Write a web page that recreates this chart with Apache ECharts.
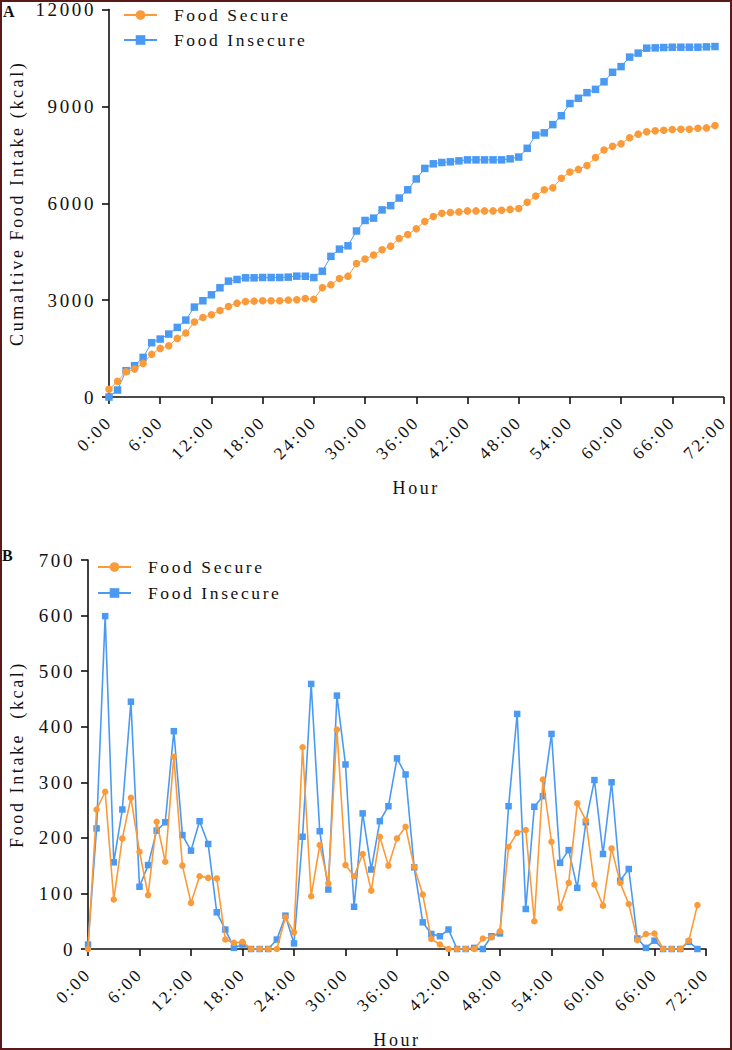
<!DOCTYPE html>
<html>
<head>
<meta charset="utf-8">
<script src="https://cdn.jsdelivr.net/npm/echarts@6/dist/echarts.min.js"></script>
<style>
  html, body { margin: 0; padding: 0; background: #fff; }
  #chart { width: 732px; height: 1050px; }
  #chart text { letter-spacing: 2.6px; white-space: pre; }
</style>
</head>
<body>
<div id="chart"></div>
<script>
// ---- data ----
const xTickHours = [0, 6, 12, 18, 24, 30, 36, 42, 48, 54, 60, 66, 72];
const seriesNames = ['Food Secure', 'Food Insecure'];

// Panel A: cumulative food intake (kcal), hourly, hours 0..71
const secureCum = [237,485,784,866,1041,1320,1505,1588,1815,1980,
  2320,2464,2547,2681,2804,2907,2959,2969,2980,2980,
  2980,3000,3010,3050,3025,3386,3478,3672,3743,4131,
  4274,4396,4559,4672,4906,5029,5212,5437,5590,5692,
  5712,5732,5763,5763,5763,5763,5783,5810,5840,6028,
  6222,6416,6477,6773,6967,7048,7171,7415,7650,7762,
  7844,8027,8140,8211,8242,8262,8282,8293,8293,8323,
  8333,8405];
const insecureCum = [0,216,815,969,1227,1681,1794,1949,2155,2382,
  2784,2980,3165,3382,3588,3639,3691,3691,3701,3701,
  3701,3712,3742,3740,3700,3896,4355,4580,4682,5141,
  5467,5539,5794,5926,6161,6416,6752,7079,7222,7262,
  7283,7313,7344,7344,7344,7344,7344,7375,7430,7701,
  8109,8180,8435,8711,9088,9251,9425,9527,9761,10057,
  10231,10526,10649,10802,10812,10822,10832,10832,10832,10832,
  10843,10853];

// Panel B: hourly food intake (kcal), hours 0..71
const secureHourly = [0,251,283,89,199,272,175,97,229,157,
  346,150,83,131,128,127,17,11,13,0,
  0,0,0,57,30,363,95,187,118,395,
  151,131,171,105,202,150,199,220,148,98,
  18,8,0,0,0,0,19,21,32,184,
  209,214,50,305,193,74,119,262,232,116,
  78,181,119,81,16,27,28,0,0,0,
  15,79];
const insecureHourly = [8,217,599,156,251,445,112,151,213,228,
  392,205,177,230,189,66,35,2,8,0,
  0,0,17,60,10,202,477,212,107,456,
  332,76,244,143,230,257,343,314,147,48,
  27,23,35,0,0,2,0,23,28,257,
  423,72,256,275,387,155,178,110,228,304,
  171,300,123,144,19,2,15,0,0,0,
  13,0];

// ---- styling ----
const FONT = "'Liberation Serif', 'Times New Roman', serif";
const ORANGE = '#FB9A38';
const BLUE = '#4A9AF3';
const INK = '#111';

function pairs(arr) { return arr.map((v, i) => [i, v]); }

function xAxis(gridIndex) {
  return {
    type: 'value', gridIndex, min: 0, max: 72, interval: 6,
    name: 'Hour', nameLocation: 'middle', nameGap: 82,
    nameTextStyle: { fontFamily: FONT, fontSize: 18, color: INK },
    axisLine: { show: true, lineStyle: { color: INK, width: 1.6 } },
    axisTick: { show: true, length: 7, lineStyle: { color: INK, width: 1.6 } },
    splitLine: { show: false },
    axisLabel: {
      rotate: 45, margin: 22, fontFamily: FONT, fontSize: 17.5, color: INK,
      showMaxLabel: true, showMinLabel: true,
      formatter: v => (xTickHours.indexOf(v) >= 0 ? v + ':00' : '')
    }
  };
}
function yAxis(gridIndex, max, interval, name, gap) {
  return {
    type: 'value', gridIndex, min: 0, max, interval,
    name, nameLocation: 'middle', nameGap: gap, nameRotate: 90,
    nameTextStyle: { fontFamily: FONT, fontSize: 18, color: INK },
    axisLine: { show: true, lineStyle: { color: INK, width: 1.6 } },
    axisTick: { show: true, length: 7, lineStyle: { color: INK, width: 1.6 } },
    splitLine: { show: false },
    axisLabel: { margin: 13, fontFamily: FONT, fontSize: 19, color: INK,
      formatter: v => String(v) }
  };
}
function line(name, data, xi, color, symbol, size, width) {
  return {
    name, type: 'line', xAxisIndex: xi, yAxisIndex: xi, data: pairs(data),
    symbol, symbolSize: size, showSymbol: true,
    lineStyle: { color, width }, itemStyle: { color },
    emphasis: { disabled: true }, animation: false, z: name === seriesNames[0] ? 3 : 2
  };
}
function legend(left, top, gap) {
  return {
    data: seriesNames, orient: 'vertical', left, top, itemGap: gap, padding: 0,
    itemWidth: 33, itemHeight: 12, selectedMode: false,
    textStyle: { fontFamily: FONT, fontSize: 17.5, color: INK, padding: [0, 0, 0, 12] }
  };
}

const chart = echarts.init(document.getElementById('chart'), null, { renderer: 'svg' });
chart.setOption({
  animation: false,
  backgroundColor: '#fff',
  grid: [
    { left: 107, right: 6, top: 5, bottom: 653 },
    { left: 86, right: 26, top: 560, bottom: 100 }
  ],
  xAxis: [xAxis(0), xAxis(1)],
  yAxis: [
    yAxis(0, 12000, 3000, 'Cumaltive Food Intake (kcal)', 83),
    yAxis(1, 700, 100, 'Food Intake  (kcal)', 62)
  ],
  legend: [legend(123, 6, 7), legend(97, 558, 8)],
  series: [
    line(seriesNames[1], insecureCum, 0, BLUE, 'rect', 7.5, 1),
    line(seriesNames[0], secureCum, 0, ORANGE, 'circle', 7.5, 1),
    line(seriesNames[1], insecureHourly, 1, BLUE, 'rect', 6.5, 1.6),
    line(seriesNames[0], secureHourly, 1, ORANGE, 'circle', 6.5, 1.6)
  ],
  graphic: [
    { type: 'text', left: 3, top: 3, style: { text: 'A', font: 'bold 16px ' + FONT, fill: INK } },
    { type: 'text', left: 2, top: 547, style: { text: 'B', font: 'bold 16px ' + FONT, fill: INK } },
    { type: 'rect', shape: { x: 1, y: 1, width: 730, height: 1048 }, style: { fill: 'none', stroke: '#5a1a1a', lineWidth: 2 }, silent: true, z: 100 }
  ]
});
</script>
</body>
</html>
